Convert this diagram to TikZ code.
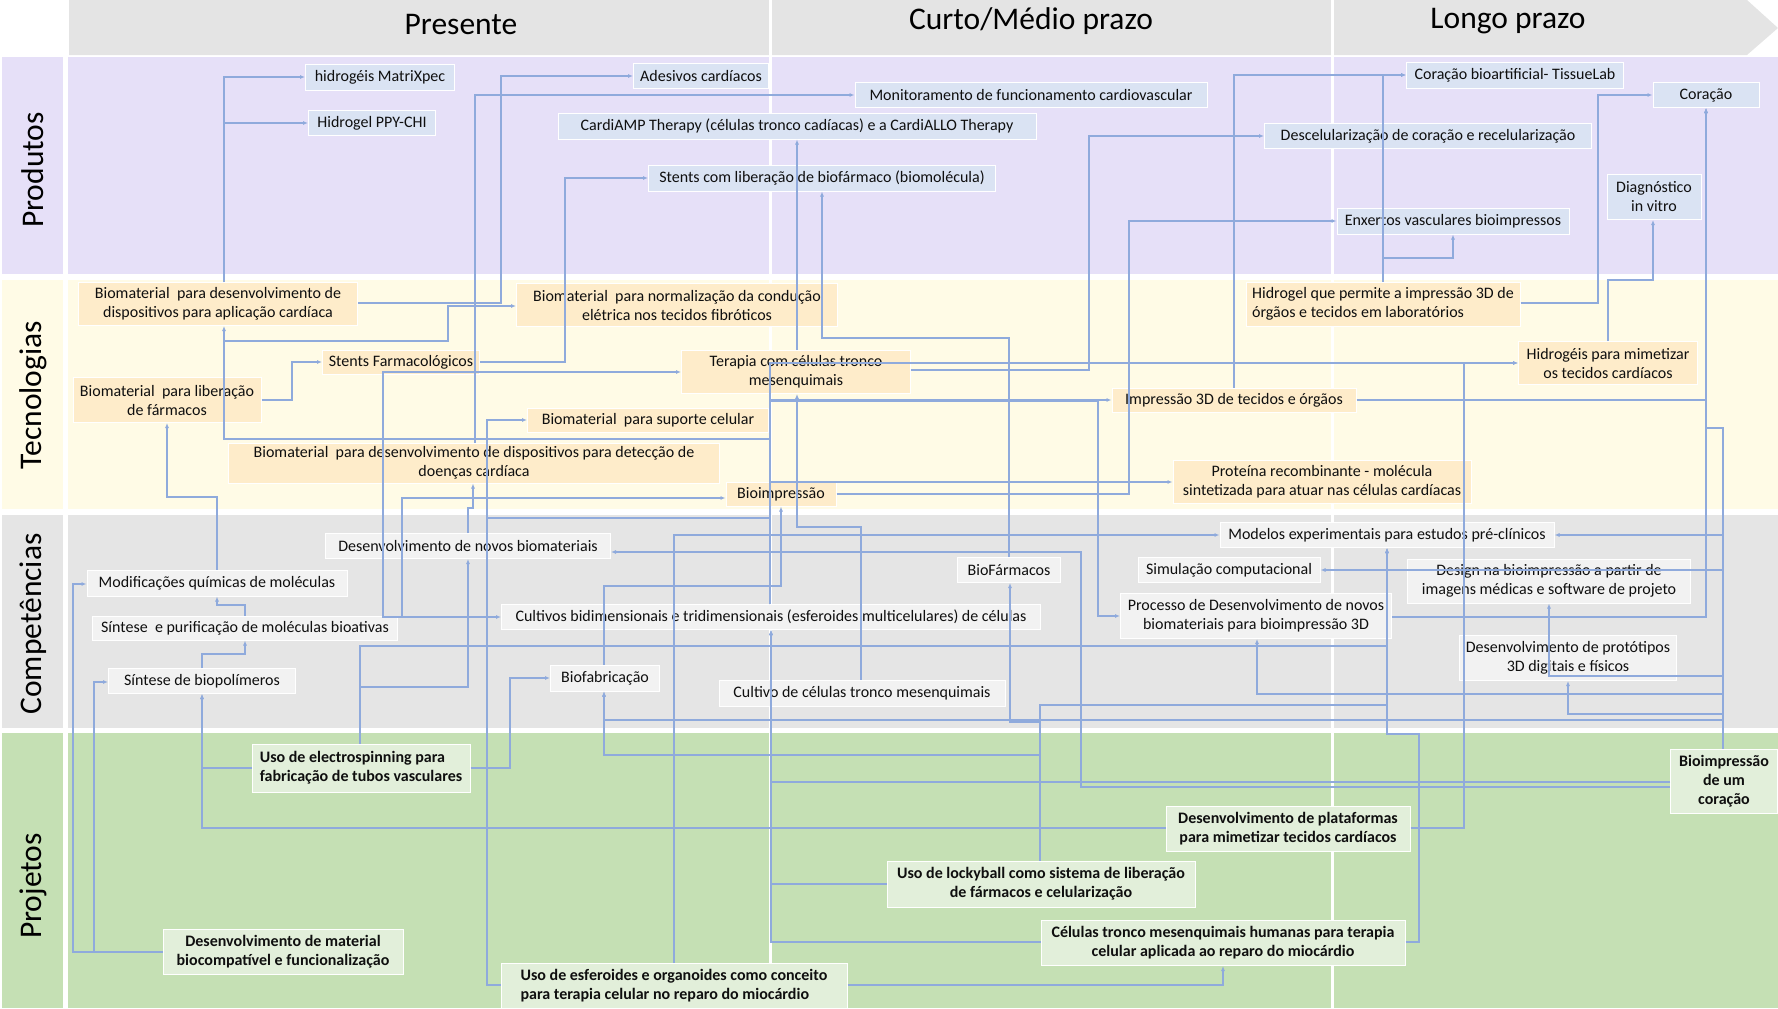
\documentclass[tikz,border=0pt]{standalone}
\usepackage{fontspec}
\setmainfont{Carlito}
\usetikzlibrary{arrows.meta}

\definecolor{headbg}{RGB}{228,228,228}
\definecolor{prodbg}{RGB}{230,224,248}
\definecolor{prodbox}{RGB}{218,227,243}
\definecolor{techbg}{RGB}{255,251,230}
\definecolor{techbox}{RGB}{254,236,202}
\definecolor{compbg}{RGB}{229,229,229}
\definecolor{compbox}{RGB}{242,242,242}
\definecolor{projbg}{RGB}{197,224,180}
\definecolor{projbox}{RGB}{226,239,218}
\definecolor{linec}{RGB}{143,170,220}
\definecolor{textc}{RGB}{15,15,15}

\newcommand{\bxfont}{\fontsize{16pt}{19pt}\selectfont}
\newcommand{\hdfont}{\fontsize{31.5pt}{36pt}\selectfont}

\begin{document}
\begin{tikzpicture}[x=1pt,y=-1pt,
  conn/.style={draw=linec,line width=1.3pt},
  arr/.style={conn,-{Latex[length=5pt,width=4pt]}},
  box/.style={rectangle,draw=white,line width=1pt,inner sep=1pt,font=\bxfont,text=textc,align=center},
  bx/.style 2 args={minimum width=#1pt,minimum height=#2pt},
  prod/.style={box,fill=prodbox},
  tech/.style={box,fill=techbox},
  comp/.style={box,fill=compbox},
  proj/.style={box,fill=projbox,font=\bxfont\bfseries},
  side/.style={rotate=90,font=\hdfont,text=black},
  head/.style={font=\hdfont,text=black}]

\useasboundingbox (0,0) rectangle (1778,1009);

% header arrow and swim lanes
\fill[headbg] (69,0) -- (1747,0) -- (1778,28) -- (1747,55) -- (69,55) -- cycle;
\fill[prodbg] (68,57) rectangle (1778,274);
\fill[prodbg] (2,57) rectangle (63,274);
\fill[techbg] (68,280) rectangle (1778,509);
\fill[techbg] (2,280) rectangle (63,509);
\fill[compbg] (68,515) rectangle (1778,728);
\fill[compbg] (2,515) rectangle (63,728);
\fill[projbg] (68,733) rectangle (1778,1008);
\fill[projbg] (2,733) rectangle (63,1008);
\draw[white,line width=3pt] (770,0) -- (770,1009);
\draw[white,line width=3pt] (1332,0) -- (1332,1009);

\node[head] (hpres) at (461,25) {Presente};
\node[head] (hcurto) at (1031,21) {Curto/Médio prazo};
\node[head] (hlongo) at (1508,21) {Longo prazo};

\node[side] (lprod) at (33,170) {Produtos};
\node[side] (ltech) at (33,395) {Tecnologias};
\node[side] (lcomp) at (33,624) {Competências};
\node[side] (lproj) at (33,886) {Projetos};

% Produtos
\node[prod,bx={149}{26}] (n1) at (380,77) {hidrogéis MatriXpec};
\node[prod,bx={127}{25}] (n2) at (372,123) {Hidrogel PPY-CHI};
\node[prod,bx={135}{25}] (n3) at (701,76) {Adesivos cardíacos};
\node[prod,bx={352}{25}] (n4) at (1031,95) {Monitoramento de funcionamento cardiovascular};
\node[prod,bx={478}{26}] (n5) at (797,126) {CardiAMP Therapy (células tronco cadíacas) e a CardiALLO Therapy};
\node[prod,bx={347}{26}] (n6) at (822,178) {Stents com liberação de biofármaco (biomolécula)};
\node[prod,bx={217}{26}] (n7) at (1515,75) {Coração bioartificial- TissueLab};
\node[prod,bx={106}{25}] (n8) at (1706,95) {Coração};
\node[prod,bx={327}{25}] (n9) at (1428,136) {Descelularização de coração e recelularização};
\node[prod,bx={94}{45}] (n10) at (1654,197) {Diagnóstico\\in vitro};
\node[prod,bx={232}{26}] (n11) at (1453,221) {Enxertos vasculares bioimpressos};

% Tecnologias
\node[tech,bx={279}{43}] (n12) at (218,304) {Biomaterial~ para desenvolvimento de\\dispositivos para aplicação cardíaca};
\node[tech,bx={321}{43}] (n13) at (677,305) {Biomaterial~ para normalização da condução\\elétrica nos tecidos fibróticos};
\node[tech,bx={157}{24}] (n14) at (401,362) {Stents Farmacológicos};
\node[tech,bx={188}{45}] (n15) at (167,400) {Biomaterial~ para liberação\\de fármacos};
\node[tech,bx={229}{43}] (n16) at (796,372) {Terapia com células tronco\\mesenquimais};
\node[tech,bx={241}{24}] (n17) at (648,420) {Biomaterial~ para suporte celular};
\node[tech,bx={491}{40}] (n18) at (474,463) {Biomaterial~ para desenvolvimento de dispositivos para detecção de\\doenças cardíaca};
\node[tech,bx={110}{24}] (n19) at (781,494) {Bioimpressão};
\node[tech,bx={274}{44},align=left] (n20) at (1383,304) {Hidrogel que permite a impressão 3D de\\órgãos e tecidos em laboratórios};
\node[tech,bx={179}{43}] (n21) at (1608,363) {Hidrogéis para mimetizar\\os tecidos cardíacos};
\node[tech,bx={244}{24}] (n22) at (1234,400) {Impressão 3D de tecidos e órgãos};
\node[tech,bx={298}{43}] (n23) at (1322,482) {Proteína recombinante - molécula\\sintetizada para atuar nas células cardíacas};

% Competências
\node[comp,bx={285}{25}] (n24) at (468,546) {Desenvolvimento de novos biomateriais};
\node[comp,bx={260}{26}] (n25) at (217,583) {Modificações químicas de moléculas};
\node[comp,bx={305}{24}] (n26) at (245,628) {Síntese~ e purificação de moléculas bioativas};
\node[comp,bx={187}{25}] (n27) at (202,681) {Síntese de biopolímeros};
\node[comp,bx={539}{25}] (n28) at (771,617) {Cultivos bidimensionais e tridimensionais (esferoides multicelulares) de células};
\node[comp,bx={109}{26}] (n29) at (605,678) {Biofabricação};
\node[comp,bx={286}{26}] (n30) at (862,693) {Cultivo de células tronco mesenquimais};
\node[comp,bx={103}{25}] (n31) at (1009,570) {BioFármacos};
\node[comp,bx={182}{25}] (n32) at (1229,570) {Simulação computacional};
\node[comp,bx={271}{45}] (n33) at (1256,616) {Processo de Desenvolvimento de novos\\biomateriais para bioimpressão 3D};
\node[comp,bx={334}{25}] (n34) at (1387,535) {Modelos experimentais para estudos pré-clínicos};
\node[comp,bx={283}{44}] (n35) at (1549,581) {Design na bioimpressão a partir de\\imagens médicas e software de projeto};
\node[comp,bx={217}{45}] (n36) at (1568,658) {Desenvolvimento de protótipos\\3D digitais e físicos};

% Projetos
\node[proj,bx={218}{48},align=left] (n37) at (361,768) {Uso de electrospinning para\\fabricação de tubos vasculares};
\node[proj,bx={240}{45}] (n38) at (283,952) {Desenvolvimento de material\\biocompatível e funcionalização};
\node[proj,bx={346}{45},align=left] (n39) at (674,986) {Uso de esferoides e organoides como conceito\\para terapia celular no reparo do miocárdio};
\node[proj,bx={308}{46}] (n40) at (1041,884) {Uso de lockyball como sistema de liberação\\de fármacos e celularização};
\node[proj,bx={364}{45}] (n41) at (1223,943) {Células tronco mesenquimais humanas para terapia\\celular aplicada ao reparo do miocárdio};
\node[proj,bx={244}{45}] (n42) at (1288,829) {Desenvolvimento de plataformas\\para mimetizar tecidos cardíacos};
\node[proj,bx={107}{64}] (n43) at (1724,781) {Bioimpressão\\de um\\coração};

% connectors: technologies to products
\draw[arr] (n12.north -| 224,0) |- (n1.west);
\draw[arr] (n12.north -| 224,0) |- (n2.west);
\draw[arr] (n12.east |- 0,303) -- (501,303) |- (n3.west);
\draw[arr] (n18.north -| 475,0) |- (n4.west);
\draw[arr] (n14.east) -- (565,362) |- (n6.west);
\draw[arr] (n16.north -| 797,0) -- (n5.south -| 797,0);
\draw[arr] (n31.north) -- (1009,338) -- (822,338) -- (n6.south -| 822,0);
\draw[arr] (n16.east |- 0,370) -- (1089,370) |- (n9.west);
\draw[arr] (n19.east) -- (1129,494) |- (n11.west);
\draw[arr] (n22.north -| 1234,0) |- (n7.west);
\draw[arr] (n20.north -| 1383,0) |- (n7.west);
\draw[arr] (n20.north -| 1383,0) -- (1383,258) -- (1453,258) -- (n11.south -| 1453,0);
\draw[arr] (n20.east |- 0,303) -- (1598,303) |- (n8.west);
\draw[arr] (n21.north -| 1608,0) -- (1608,280) -- (1653,280) -- (n10.south -| 1653,0);
\draw[arr] (n22.east) -- (1706,400) -- (n8.south);
\draw[arr] (n33.east |- 0,617) -- (1706,617) -- (n8.south);

% connectors from the heart bioprinting project
\draw[arr] (n43.north -| 1723,0) -- (1723,428) -- (1706,428) -- (n8.south);
\draw[arr] (n43.north -| 1723,0) |- (n34.east);
\draw[arr] (n43.north -| 1723,0) |- (n32.east);
\draw[arr] (n43.north -| 1723,0) -- (1723,676) -- (1549,676) -- (n35.south -| 1549,0);
\draw[arr] (n43.north -| 1723,0) -- (1723,694) -- (1257,694) -- (n33.south -| 1257,0);
\draw[arr] (n43.north -| 1723,0) -- (1723,714) -- (1568,714) -- (n36.south -| 1568,0);
\draw[arr] (n43.north -| 1723,0) -- (1723,720) -- (604,720) -- (n29.south -| 604,0);
\draw[arr] (n43.west |- 0,782) -- (771,782) -- (n28.south -| 771,0);
\draw[arr] (n43.west |- 0,787) -- (1081,787) -- (1081,552) -- (n24.east |- 0,552);

% connectors from cell cultures
\draw[arr] (n28.north -| 770,0) -- (770,439) -- (224,439) -- (n12.south -| 224,0);
\draw[arr] (n28.north -| 770,0) -- (770,439) -- (224,439) -- (224,341) -- (448,341) -- (448,306) -- (n13.west |- 0,306);
\draw[arr] (n28.north -| 770,0) |- (n22.west);
\draw[arr] (n28.north -| 770,0) -- (770,401) -- (1098,401) |- (n33.west);
\draw[arr] (n28.north -| 770,0) |- (n21.west);
\draw[arr] (n28.north -| 770,0) |- (n23.west);
\coordinate (bus) at (770,518);
\draw[conn] (n39.west |- 0,985) -- (487,985) -- (487,518) -- (bus);

% connectors from projects and competences
\draw[arr] (n42.east |- 0,828) -- (1464,828) |- (n21.west);
\draw[arr] (n42.west |- 0,828) -- (202,828) -- (n27.south -| 202,0);
\draw[arr] (n37.west |- 0,768) -- (202,768) -- (n27.south -| 202,0);
\draw[arr] (n37.north -| 360,0) -- (360,646) -- (1387,646) -- (n34.south -| 1387,0);
\draw[arr] (n37.north -| 360,0) -- (360,687) -- (468,687) -- (n24.south -| 468,0);
\draw[arr] (n37.east |- 0,768) -- (510,768) |- (n29.west);
\draw[arr] (n24.north -| 468,0) -- (468,508) -- (473,508) -- (n18.south -| 473,0);
\draw[arr] (n25.north -| 217,0) -- (217,497) -- (167,497) -- (n15.south);
\draw[arr] (n15.east) -- (292,400) |- (n14.west);
\draw[arr] (n26.north -| 245,0) -- (245,605) -- (217,605) -- (n25.south -| 217,0);
\draw[arr] (n27.north -| 202,0) -- (202,654) -- (245,654) -- (n26.south -| 245,0);
\draw[arr] (n38.west) -- (73,952) -- (73,584) -- (n25.west |- 0,584);
\draw[arr] (n38.west) -- (94,952) -- (94,682) -- (n27.west |- 0,682);
\draw[arr] (n39.west |- 0,985) -- (487,985) |- (n17.west);
\draw[arr] (n39.west |- 0,985) -- (487,985) -- (487,617) -- (383,617) -- (383,372) -- (n16.west |- 0,372);
\draw[arr] (n39.west |- 0,985) -- (487,985) -- (487,617) -- (402,617) -- (402,498) -- (n19.west |- 0,498);
\draw[arr] (n39.west |- 0,985) -- (487,985) |- (n28.west);
\draw[arr] (n39.north -| 674,0) |- (n34.west);
\draw[arr] (n39.east |- 0,985) -| (n41.south);
\draw[arr] (n41.west |- 0,942) -- (771,942) -- (n28.south -| 771,0);
\draw[arr] (n40.west) -- (771,884) -- (n28.south -| 771,0);
\draw[arr] (n41.east |- 0,942) -- (1419,942) -- (1419,734) -- (1387,734) -- (n34.south -| 1387,0);
\draw[arr] (n40.north -| 1040,0) -- (1040,705) -- (1387,705) -- (n34.south -| 1387,0);
\draw[arr] (n40.north -| 1040,0) -- (1040,722) -- (1010,722) -- (n31.south -| 1010,0);
\draw[arr] (n40.north -| 1040,0) -- (1040,755) -- (604,755) -- (n29.south -| 604,0);
\draw[arr] (n29.north -| 604,0) -- (604,586) -- (781,586) -- (n19.south -| 781,0);
\draw[arr] (n30.north -| 861,0) -- (861,527) -- (797,527) -- (n16.south -| 797,0);

\end{tikzpicture}
\end{document}
